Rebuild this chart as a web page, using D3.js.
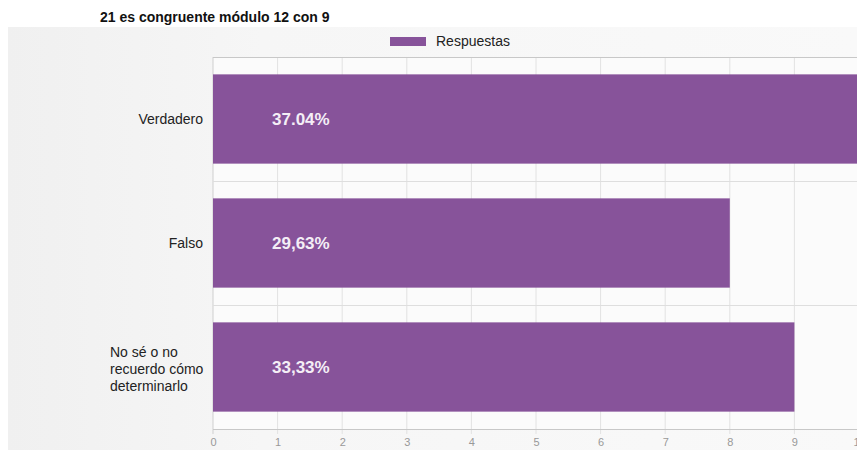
<!DOCTYPE html>
<html lang="es">
<head>
<meta charset="utf-8">
<script src="https://d3js.org/d3.v7.min.js"></script>
<style>
  body { margin: 0; background: #fff; }
  text { font-family: Arial, "Liberation Sans", sans-serif; }
</style>
</head>
<body>
<div id="canvas"></div>
<script>
// data
var title = "21 es congruente módulo 12 con 9";
var seriesName = "Respuestas";
var categories = ["Verdadero", "Falso", "No sé o no\nrecuerdo cómo\ndeterminarlo"];
var values = [10, 8, 9];
var percentLabels = ["37.04%", "29,63%", "33,33%"];
var tickValues = [0, 1, 2, 3, 4, 5, 6, 7, 8, 9, 10];

var width = 857, height = 450;
var barColor = "#87539a";

var svg = d3.select("#canvas").append("svg")
    .attr("width", width)
    .attr("height", height);

// light panel behind the chart
var grad = svg.append("defs").append("linearGradient")
    .attr("id", "bg").attr("x1", 0).attr("x2", 1).attr("y1", 0).attr("y2", 0);
grad.append("stop").attr("offset", "0%").attr("stop-color", "#f0f0f0");
grad.append("stop").attr("offset", "30%").attr("stop-color", "#f6f6f6");
grad.append("stop").attr("offset", "100%").attr("stop-color", "#f9f9f9");

svg.append("rect")
    .attr("x", 8).attr("y", 27)
    .attr("width", width - 8).attr("height", height - 27)
    .attr("fill", "url(#bg)");

svg.append("text")
    .attr("x", 100).attr("y", 22)
    .attr("font-size", "14px")
    .attr("font-weight", "bold")
    .attr("fill", "#111")
    .text(title);

var margin = {top: 57, left: 213, bottom: 21};
var x = d3.scaleLinear().domain([0, 10]).range([margin.left, margin.left + 646]);
var y = d3.scaleBand().domain(categories)
    .range([margin.top, height - margin.bottom])
    .paddingInner(0.28).paddingOuter(0.14);

// plot background
svg.append("rect")
    .attr("x", x(0)).attr("y", margin.top)
    .attr("width", width - x(0)).attr("height", height - margin.bottom - margin.top)
    .attr("fill", "#fbfbfb");

// vertical grid
svg.append("g").selectAll("line")
    .data(tickValues)
    .enter().append("line")
    .attr("x1", function(d) { return x(d); })
    .attr("x2", function(d) { return x(d); })
    .attr("y1", margin.top)
    .attr("y2", height - margin.bottom + 5)
    .attr("stroke", function(d) { return d === 0 ? "#cfcfcf" : "#e2e2e2"; })
    .attr("stroke-width", 1);

// horizontal lines at band edges
var edges = categories.map(function(c) { return y(c) - y.step() * y.paddingInner() / 2; });
edges.push(height - margin.bottom);
edges[0] = margin.top;
svg.append("g").selectAll("line")
    .data(edges)
    .enter().append("line")
    .attr("x1", x(0)).attr("x2", width)
    .attr("y1", function(d) { return Math.round(d) + 0.5; })
    .attr("y2", function(d) { return Math.round(d) + 0.5; })
    .attr("stroke", function(d, i) { return i === 0 || i === edges.length - 1 ? "#c8c8c8" : "#dedede"; });

// bars
svg.append("g").selectAll("rect")
    .data(values)
    .enter().append("rect")
    .attr("x", x(0))
    .attr("y", function(d, i) { return y(categories[i]); })
    .attr("width", function(d) { return x(d) - x(0); })
    .attr("height", y.bandwidth())
    .attr("fill", barColor);

// percentage labels on bars
svg.append("g").selectAll("text")
    .data(percentLabels)
    .enter().append("text")
    .attr("x", x(0) + 59)
    .attr("y", function(d, i) { return y(categories[i]) + y.bandwidth() / 2; })
    .attr("dy", "0.36em")
    .attr("font-size", "17px")
    .attr("font-weight", "bold")
    .attr("fill", "#f4eef6")
    .text(function(d) { return d; });

// category labels
svg.append("g").selectAll("text")
    .data(categories)
    .enter().append("text")
    .attr("font-size", "14px")
    .attr("fill", "#222")
    .each(function(d) {
        var lines = d.split("\n");
        var t = d3.select(this);
        var cy = y(d) + y.bandwidth() / 2;
        var lh = 17;
        if (lines.length === 1) {
            t.attr("x", x(0) - 10).attr("y", cy).attr("dy", "0.36em")
                .attr("text-anchor", "end").text(d);
        } else {
            t.attr("y", cy - (lines.length - 1) * lh / 2 + 2);
            lines.forEach(function(l, j) {
                t.append("tspan").attr("x", 110).attr("dy", j === 0 ? "0.36em" : lh).text(l);
            });
        }
    });

// bottom axis labels
var axis = svg.append("g")
    .attr("transform", "translate(0," + (height - margin.bottom) + ")")
    .call(d3.axisBottom(x).tickValues(tickValues).tickSize(0).tickPadding(9).tickFormat(d3.format("d")));
axis.select(".domain").remove();
axis.selectAll("text")
    .attr("font-size", "11px")
    .attr("font-family", "'Liberation Sans Narrow', Arial, sans-serif")
    .attr("fill", "#999");

// legend
svg.append("rect")
    .attr("x", 390).attr("y", 37)
    .attr("width", 36).attr("height", 9)
    .attr("fill", barColor);
svg.append("text")
    .attr("x", 436).attr("y", 46)
    .attr("font-size", "14px")
    .attr("fill", "#222")
    .text(seriesName);
</script>
</body>
</html>
